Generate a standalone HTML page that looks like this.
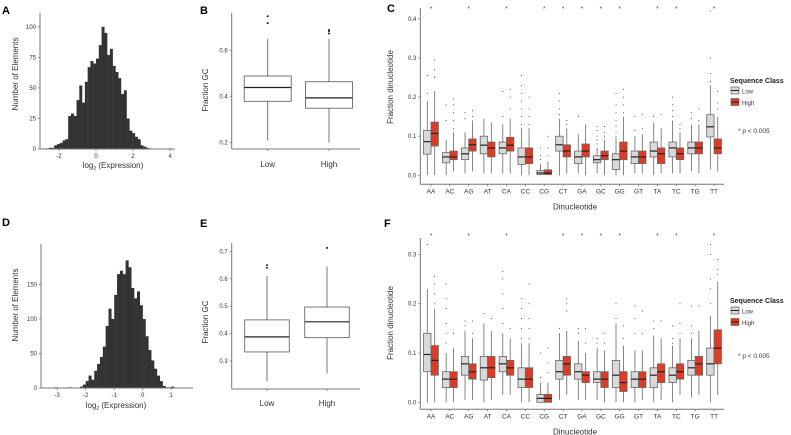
<!DOCTYPE html>
<html><head><meta charset="utf-8">
<style>
html,body{margin:0;padding:0;background:#fff;}
svg{display:block;font-family:"Liberation Sans",Arial,sans-serif;}
</style></head>
<body>
<svg id="fig" width="791" height="435" viewBox="0 0 791 435"></svg>
<script>
// ---------- Data ----------
// Panel A histogram (bin start, width 0.15)
const histABins = [-2.7,-2.55,-2.4,-2.25,-2.1,-1.95,-1.8,-1.65,-1.5,-1.35,-1.2,-1.05,-0.9,-0.75,-0.6,-0.45,-0.3,-0.15,0,0.15,0.3,0.45,0.6,0.75,0.9,1.05,1.2,1.35,1.5,1.65,1.8,1.95,2.1,2.25,2.4,2.55,2.7,2.85,3.9];
const histACounts = [0.5,1,1,3,4,5,7,8,27,29,27,40,52,38,55,67,72,70,74,85,100,95,77,82,68,63,58,45,48,25,15,13,10,8,3,2,1,0.5,0.5];
// Panel D histogram (bin start, width 0.1)
const histDBins = [-3.1,-2.6,-2.2,-2.1,-2.0,-1.9,-1.8,-1.7,-1.6,-1.5,-1.4,-1.3,-1.2,-1.1,-1.0,-0.9,-0.8,-0.7,-0.6,-0.5,-0.4,-0.3,-0.2,-0.1,0.0,0.1,0.2,0.3,0.4,0.5,0.6,0.7,0.8,0.9,1.0];
const histDCounts = [1,1,2,5,10,18,12,25,35,45,60,90,115,100,135,165,170,165,185,175,145,130,140,120,100,75,55,40,28,18,10,3,1,1,2];
// Panel B / E box stats: [q1, median, q3, whiskerLow, whiskerHigh]
const gcGroups = ["Low","High"];
const gcB = [[0.38,0.44,0.49,0.21,0.65],[0.35,0.395,0.465,0.20,0.652]];
const gcBOut = [[0.72,0.75],[0.675,0.685,0.69]];
const gcE = [[0.333,0.388,0.45,0.225,0.61],[0.385,0.443,0.497,0.255,0.645]];
const gcEOut = [[0.64,0.65],[0.713]];
// Panels C / F
const dinucs = ["AA","AC","AG","AT","CA","CC","CG","CT","GA","GC","GG","GT","TA","TC","TG","TT"];
const cLow = [[.054,.086,.115,0,.19],[.032,.047,.058,0,.09],[.04,.055,.07,.005,.11],[.055,.077,.10,.005,.145],[.055,.07,.085,.005,.13],[.028,.047,.07,0,.12],[.002,.006,.012,0,.03],[.062,.078,.10,0,.145],[.03,.047,.062,.005,.105],[.032,.04,.05,.005,.07],[.015,.04,.055,0,.095],[.03,.047,.062,.005,.10],[.047,.062,.085,0,.135],[.047,.07,.085,.005,.14],[.055,.07,.085,.01,.13],[.098,.124,.155,.015,.23]];
const cHigh = [[.075,.107,.136,0,.215],[.04,.047,.062,.01,.11],[.062,.078,.093,.01,.14],[.047,.07,.085,.005,.135],[.062,.077,.097,.005,.145],[.03,.047,.07,0,.12],[.002,.006,.014,0,.035],[.047,.062,.078,.005,.12],[.047,.062,.08,0,.13],[.04,.05,.062,0,.09],[.04,.062,.085,0,.15],[.03,.047,.062,.005,.105],[.03,.055,.07,.005,.12],[.04,.055,.07,.005,.11],[.055,.07,.085,.005,.13],[.055,.07,.093,.01,.15]];
const cLowOut = [[.21,.255],[.14,.18],[.145,.16],[],[.15,.215],[.13,.15,.17,.19,.21,.23,.255],[.04,.05,.07],[.155,.17,.19,.21],[.15],[.08,.09,.1,.115,.125],[.1,.11,.125,.14,.16,.18,.21],[.115,.15],[.15],[.15,.165,.18,.2],[.145,.16],[.24,.26,.3,.42]];
const cHighOut = [[.25,.27,.295],[.12,.14,.16,.18,.195],[.15,.165],[],[.17,.2,.22],[.13,.15,.17,.2],[.05,.07,.1],[.13,.14],[],[.1,.11,.125],[.16,.18,.2,.22],[.12,.155],[.155],[.12,.13],[.14,.17],[.17,.185,.215]];
const cStars = ["AA","AG","CA","CG","CT","GA","GC","GG","TA","TC","TT"];
const fLow = [[.062,.097,.14,0,.23],[.03,.047,.062,0,.10],[.055,.078,.093,.005,.145],[.045,.07,.093,0,.16],[.062,.078,.093,.015,.14],[.03,.047,.07,0,.12],[0,.008,.016,0,.04],[.047,.062,.085,.005,.14],[.047,.062,.078,.005,.125],[.04,.047,.062,.005,.11],[.03,.055,.085,0,.16],[.03,.047,.062,0,.105],[.03,.055,.07,0,.135],[.04,.055,.07,0,.115],[.055,.07,.085,.01,.13],[.055,.078,.11,0,.175]];
const fHigh = [[.055,.085,.115,0,.19],[.03,.047,.062,0,.11],[.047,.062,.078,.005,.13],[.05,.07,.093,.005,.145],[.055,.07,.085,.015,.13],[.03,.047,.07,0,.12],[0,.008,.016,0,.04],[.055,.078,.093,.015,.145],[.04,.055,.062,.005,.10],[.03,.047,.062,0,.105],[.022,.04,.062,0,.115],[.03,.047,.062,.005,.105],[.04,.062,.078,.005,.13],[.047,.062,.078,.015,.13],[.055,.078,.093,.015,.145],[.078,.11,.147,.015,.245]];
const fLowOut = [[.32],[.12,.14,.16,.19,.21,.24],[.155,.165],[.18],[.16,.19,.22,.25,.265],[.13,.15,.17,.19,.21],[.05,.1],[.15],[.14,.15],[.12,.13],[.17,.2],[.14,.17,.195],[.15,.165],[.12,.13,.155],[.14,.155,.195],[.2,.23,.25,.3,.32]];
const fHighOut = [[.2,.22,.24,.255],[.14],[.14,.165],[.17],[.15],[.13,.15,.17,.2,.24],[.06,.08,.11],[.185,.2,.21],[.12,.15],[.12,.14],[.13,.155],[.14,.185],[.165],[.14,.16,.2],[.195],[.26,.27,.29]];
const fStars = ["AA","AG","CA","CT","GA","GC","GG","TA","TC","TT"];

// ---------- Helpers ----------
const NS = "http://www.w3.org/2000/svg";
const svg = document.getElementById("fig");
function mk(tag, attrs, name, parent) {
  const el = document.createElementNS(NS, tag);
  for (const k in attrs) el.setAttribute(k, attrs[k]);
  
  
  (parent || svg).appendChild(el);
  return el;
}
function txt(x, y, s, size, name, opts) {
  opts = opts || {};
  const t = mk("text", {x:x, y:y, "font-size":size, fill:opts.fill||"#333", "text-anchor":opts.anchor||"middle", "font-weight":opts.weight||"normal"}, name);
  if (opts.rotate) t.setAttribute("transform", "rotate(-90 " + x + " " + y + ")");
  t.textContent = s;
  return t;
}
function axes(x0, x1, y0, y1, name) {
  mk("line", {x1:x0, y1:y0, x2:x0, y2:y1, stroke:"#777", "stroke-width":1}, name + "-y-axis");
  mk("line", {x1:x0, y1:y1, x2:x1, y2:y1, stroke:"#777", "stroke-width":1}, name + "-x-axis");
}
function yTicks(vals, ys, x0, name, fmt) {
  vals.forEach((v) => {
    const y = ys(v);
    mk("line", {x1:x0-2, y1:y, x2:x0, y2:y, stroke:"#777", "stroke-width":0.8}, name + "-y-tick");
    txt(x0-4, y+2, fmt(v), 6, name + "-y-tick-label", {anchor:"end"});
  });
}

// ---------- Panel letters ----------
[["A",2,14],["B",200,14],["C",387,12],["D",2,226],["E",200,227],["F",384,227]].forEach(p => {
  txt(p[1], p[2], p[0], 11, "panel-label-" + p[0].toLowerCase(), {anchor:"start", weight:"bold", fill:"#000"});
});

// ---------- Histogram ----------
function histogram(bins, counts, bw, xs, ys, y0, name) {
  bins.forEach((b, i) => {
    const x = xs(b), w = xs(b + bw) - xs(b), y = ys(counts[i]);
    mk("rect", {x:x, y:y, width:w + 0.2, height:y0 - y, fill:"#333"}, name + "-bar");
  });
}
// Panel A
{
  const xs = v => 96 + v * 18.55, ys = v => 149 - v * 1.222;
  histogram(histABins, histACounts, 0.15, xs, ys, 149, "hist-a");
  axes(40, 175, 13, 149, "hist-a");
  yTicks([0,25,50,75,100], ys, 40, "hist-a", v => String(v));
  [-2,0,2,4].forEach(v => {
    mk("line", {x1:xs(v), y1:149, x2:xs(v), y2:151, stroke:"#777", "stroke-width":0.8}, "hist-a-x-tick");
    txt(xs(v), 158, String(v), 6, "hist-a-x-tick-label");
  });
  const t = txt(113, 168, "log", 8, "hist-a-x-title");
  t.innerHTML = 'log<tspan font-size="5" dy="2">2</tspan><tspan dy="-2"> (Expression)</tspan>';
  txt(18, 74, "Number of Elements", 8, "hist-a-y-title", {rotate:true});
}
// Panel D
{
  const xs = v => 142.7 + v * 28.5, ys = v => 388 - v * 0.69;
  histogram(histDBins, histDCounts, 0.1, xs, ys, 388, "hist-d");
  axes(41, 193, 244, 388, "hist-d");
  yTicks([0,50,100,150], ys, 41, "hist-d", v => String(v));
  [-3,-2,-1,0,1].forEach(v => {
    mk("line", {x1:xs(v), y1:388, x2:xs(v), y2:390, stroke:"#777", "stroke-width":0.8}, "hist-d-x-tick");
    txt(xs(v), 397, String(v), 6, "hist-d-x-tick-label");
  });
  const t = txt(116, 408, "log", 8, "hist-d-x-title");
  t.innerHTML = 'log<tspan font-size="5" dy="2">2</tspan><tspan dy="-2"> (Expression)</tspan>';
  txt(18, 305, "Number of Elements", 8, "hist-d-y-title", {rotate:true});
}

// ---------- Box drawing ----------
function box(cx, w, st, ys, fill, stroke, name, outs, r) {
  const [q1, md, q3, lo, hi] = st;
  mk("line", {x1:cx, y1:ys(hi), x2:cx, y2:ys(q3), stroke:stroke, "stroke-width":0.8}, name + "-whisker-high");
  mk("line", {x1:cx, y1:ys(q1), x2:cx, y2:ys(lo), stroke:stroke, "stroke-width":0.8}, name + "-whisker-low");
  mk("rect", {x:cx - w/2, y:ys(q3), width:w, height:ys(q1) - ys(q3), fill:fill, stroke:stroke, "stroke-width":0.8}, name + "-box");
  mk("line", {x1:cx - w/2, y1:ys(md), x2:cx + w/2, y2:ys(md), stroke:"#222", "stroke-width":1.2}, name + "-median");
  (outs || []).forEach(o => mk("circle", {cx:cx, cy:ys(o), r:r, fill:"#222"}, name + "-outlier"));
}

// Panel B
{
  const ys = v => 142.7 - (v - 0.2) * 230;
  const cxs = [267.7, 329];
  axes(231.7, 360, 13, 149, "gc-b");
  yTicks([0.2,0.4,0.6], ys, 231.7, "gc-b", v => v.toFixed(1));
  gcGroups.forEach((g, i) => {
    box(cxs[i], 47, gcB[i], ys, "#fff", "#555", "gc-b-" + g.toLowerCase(), gcBOut[i], 1);
    mk("line", {x1:cxs[i], y1:149, x2:cxs[i], y2:151, stroke:"#777", "stroke-width":0.8}, "gc-b-x-tick");
    txt(cxs[i], 167, g, 8, "gc-b-x-label-" + g.toLowerCase());
  });
  txt(208, 90, "Fraction GC", 8, "gc-b-y-title", {rotate:true});
}
// Panel E
{
  const ys = v => 361 - (v - 0.3) * 274;
  const cxs = [267, 327];
  axes(231.7, 360, 243, 389, "gc-e");
  yTicks([0.3,0.4,0.5,0.6,0.7], ys, 231.7, "gc-e", v => v.toFixed(1));
  gcGroups.forEach((g, i) => {
    box(cxs[i], 44.5, gcE[i], ys, "#fff", "#555", "gc-e-" + g.toLowerCase(), gcEOut[i], 1);
    mk("line", {x1:cxs[i], y1:389, x2:cxs[i], y2:391, stroke:"#777", "stroke-width":0.8}, "gc-e-x-tick");
    txt(cxs[i], 406, g, 8, "gc-e-x-label-" + g.toLowerCase());
  });
  txt(208, 322, "Fraction GC", 8, "gc-e-y-title", {rotate:true});
}

// ---------- Dinucleotide panels ----------
function dinucPanel(p) {
  const ys = v => p.y0 - v * p.k;
  const xs = i => 431 + i * 18.87;
  axes(420.3, 724, p.top, p.bottom, p.name);
  yTicks(p.ticks, ys, 420.3, p.name, v => v.toFixed(1));
  dinucs.forEach((d, i) => {
    const cx = xs(i);
    box(cx - 3.7, 7.4, p.low[i], ys, "#d9d9d9", "#666", p.name + "-" + d.toLowerCase() + "-low", p.lowOut[i], 0.5);
    box(cx + 3.7, 7.4, p.high[i], ys, "#de3b26", "#666", p.name + "-" + d.toLowerCase() + "-high", p.highOut[i], 0.5);
    mk("line", {x1:cx, y1:p.bottom, x2:cx, y2:p.bottom + 2, stroke:"#777", "stroke-width":0.8}, p.name + "-x-tick");
    txt(cx, p.bottom + 9, d, 6.5, p.name + "-x-label-" + d.toLowerCase());
    if (p.stars.indexOf(d) >= 0) txt(cx, p.starY, "*", 7, p.name + "-star-" + d.toLowerCase(), {fill:"#555"});
  });
  txt(575, p.bottom + 25, "Dinucleotide", 8, p.name + "-x-title");
  txt(393, p.yMid, "Fraction dinucleotide", 8, p.name + "-y-title", {rotate:true});
  txt(730, p.legY, "Sequence Class", 7, p.name + "-legend-title", {anchor:"start", weight:"bold", fill:"#222"});
  mk("rect", {x:731, y:p.legY + 4, width:8, height:7, fill:"#d9d9d9", stroke:"#666", "stroke-width":0.7}, p.name + "-legend-low-key");
  mk("line", {x1:731, y1:p.legY + 7.5, x2:739, y2:p.legY + 7.5, stroke:"#222", "stroke-width":1}, p.name + "-legend-low-median");
  txt(742, p.legY + 10.5, "Low", 6, p.name + "-legend-low-label", {anchor:"start"});
  mk("rect", {x:731, y:p.legY + 15.5, width:8, height:7, fill:"#de3b26", stroke:"#666", "stroke-width":0.7}, p.name + "-legend-high-key");
  mk("line", {x1:731, y1:p.legY + 19, x2:739, y2:p.legY + 19, stroke:"#222", "stroke-width":1}, p.name + "-legend-high-median");
  txt(742, p.legY + 22, "High", 6, p.name + "-legend-high-label", {anchor:"start"});
  txt(738, p.pY, "* p < 0.005", 6.5, p.name + "-significance-note", {anchor:"start"});
}
dinucPanel({name:"dinuc-c", y0:175.3, k:391, top:8, bottom:184.3, ticks:[0,0.1,0.2,0.3,0.4], low:cLow, high:cHigh, lowOut:cLowOut, highOut:cHighOut, stars:cStars, starY:11, yMid:87, legY:83, pY:133});
dinucPanel({name:"dinuc-f", y0:402.3, k:493, top:238, bottom:409.3, ticks:[0,0.1,0.2,0.3], low:fLow, high:fHigh, lowOut:fLowOut, highOut:fHighOut, stars:fStars, starY:238, yMid:323, legY:303, pY:358});
</script>
</body></html>
